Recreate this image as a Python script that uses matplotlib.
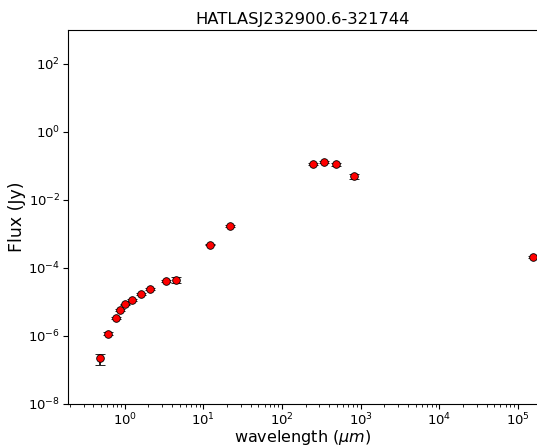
import numpy as np
import matplotlib
matplotlib.use('Agg')
import matplotlib.pyplot as plt

plt.rcParams['axes.unicode_minus'] = False

# photometry
wavelength = [0.48, 0.62, 0.77, 0.88, 1.02, 1.25, 1.61, 2.1, 3.4, 4.5,
              12.1, 21.8, 247, 346, 490, 835, 1.55e5]
flux = [2.2e-7, 1.17e-6, 3.4e-6, 5.9e-6, 8.5e-6, 1.17e-5, 1.74e-5, 2.46e-5,
        4.2e-5, 4.5e-5, 4.9e-4, 1.73e-3, 0.112, 0.131, 0.112, 0.050, 2.1e-4]
flux_err = [0.8e-7, 0.1e-6, 0.3e-6, 0.4e-6, 0.5e-6, 0.8e-6, 1.0e-6, 1.5e-6,
            2.5e-6, 1.0e-5, 3e-5, 1.5e-4, 0.008, 0.009, 0.009, 0.008, 1.5e-5]
title = 'HATLASJ232900.6-321744'

fig = plt.figure(figsize=(5.37, 4.47), dpi=100)
ax = fig.add_axes([0.1266, 0.0962, 0.8752, 0.8367])

ax.errorbar(wavelength, flux, yerr=flux_err, fmt='o', color='red',
            markeredgecolor='black', markeredgewidth=0.6, markersize=5.5,
            ecolor='black', elinewidth=1.2, capsize=3.5, capthick=1.2)

ax.set_xscale('log')
ax.set_yscale('log')
ax.set_xlim(0.19, 1.8e5)
ax.set_ylim(1e-8, 1e3)
ax.set_yticks([1e-8, 1e-6, 1e-4, 1e-2, 1e0, 1e2])
ax.set_xlabel(r'wavelength ($\mu m$)', fontsize=11.5)
ax.set_ylabel('Flux (Jy)', fontsize=12.5)
ax.xaxis.set_label_coords(0.5, -0.064)
ax.yaxis.set_label_coords(-0.089, 0.5)
ax.set_title(title, fontsize=11.8, pad=4)
ax.tick_params(which='major', labelsize=9.5, pad=2, length=3.5)
ax.tick_params(which='minor', length=2)

plt.savefig('out.png', dpi=100)
